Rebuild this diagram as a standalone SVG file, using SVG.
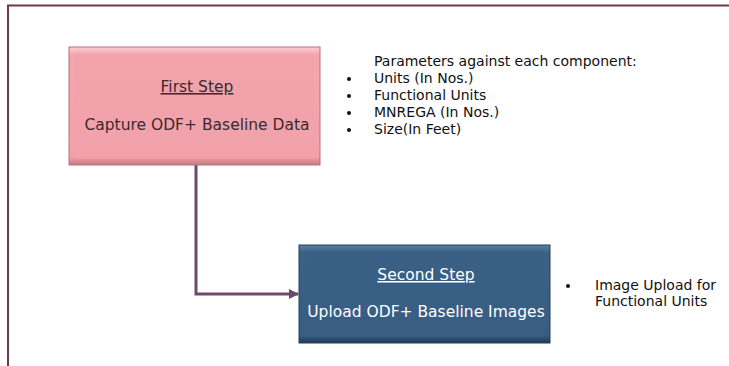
<svg xmlns="http://www.w3.org/2000/svg" width="729" height="366" viewBox="0 0 729 366">
<defs>
<style>
.t{font-family:"DejaVu Sans","Liberation Sans",sans-serif;font-size:15.5px;}
.bt{font-family:"DejaVu Sans","Liberation Sans",sans-serif;font-size:14px;fill:#111;}
</style>
<linearGradient id="pg" x1="0" y1="0" x2="0" y2="1">
<stop offset="0" stop-color="#f9ccd2"/><stop offset="0.07" stop-color="#f4a6ae"/><stop offset="0.93" stop-color="#f2a1a9"/><stop offset="1" stop-color="#c67983"/>
</linearGradient>
<linearGradient id="bg" x1="0" y1="0" x2="0" y2="1">
<stop offset="0" stop-color="#5a7fa3"/><stop offset="0.08" stop-color="#3b6186"/><stop offset="0.92" stop-color="#385d81"/><stop offset="1" stop-color="#1f3a55"/>
</linearGradient>
<marker id="ah" markerWidth="10" markerHeight="10" refX="9" refY="5" orient="auto" markerUnits="userSpaceOnUse">
<path d="M0,0 L10,5 L0,10 Z" fill="#6a4b6c"/>
</marker>
</defs>
<rect width="729" height="366" fill="#fff"/>
<path d="M8,366 V5.5 H729" fill="none" stroke="#6b3a4e" stroke-width="2"/>
<g id="connectors">
<path d="M196,165 V294 H298" fill="none" stroke="#6a4b6c" stroke-width="3" marker-end="url(#ah)"/>
</g>
<g id="node-first">
<rect x="69" y="47" width="251" height="118" fill="url(#pg)" stroke="#b8707c" stroke-width="1"/>
<rect x="75" y="53" width="239" height="106" fill="#f2a2aa" opacity="0.6"/>
<text class="t" x="197" y="92" text-anchor="middle" fill="#3a2a2e" text-decoration="underline">First Step</text>
<text class="t" x="197" y="130" text-anchor="middle" fill="#3a2a2e">Capture ODF+ Baseline Data</text>
</g>
<g id="node-params">
<text class="bt" x="374" y="66">Parameters against each component:</text>
<circle cx="349" cy="79" r="2" fill="#111"/><text class="bt" x="374" y="83">Units (In Nos.)</text>
<circle cx="349" cy="96" r="2" fill="#111"/><text class="bt" x="374" y="100">Functional Units</text>
<circle cx="349" cy="113" r="2" fill="#111"/><text class="bt" x="374" y="117">MNREGA (In Nos.)</text>
<circle cx="349" cy="130" r="2" fill="#111"/><text class="bt" x="374" y="134">Size(In Feet)</text>
</g>
<g id="node-second">
<rect x="299" y="245" width="251" height="98" fill="url(#bg)" stroke="#22415e" stroke-width="1"/>
<rect x="305" y="251" width="239" height="86" fill="#3a5f84" opacity="0.6"/>
<text class="t" x="426" y="280" text-anchor="middle" fill="#fff" text-decoration="underline">Second Step</text>
<text class="t" x="426" y="317" text-anchor="middle" fill="#fff">Upload ODF+ Baseline Images</text>
</g>
<g id="node-upload">
<circle cx="568" cy="286" r="2" fill="#111"/>
<text class="bt" x="595" y="290">Image Upload for</text>
<text class="bt" x="595" y="306">Functional Units</text>
</g>
</svg>
